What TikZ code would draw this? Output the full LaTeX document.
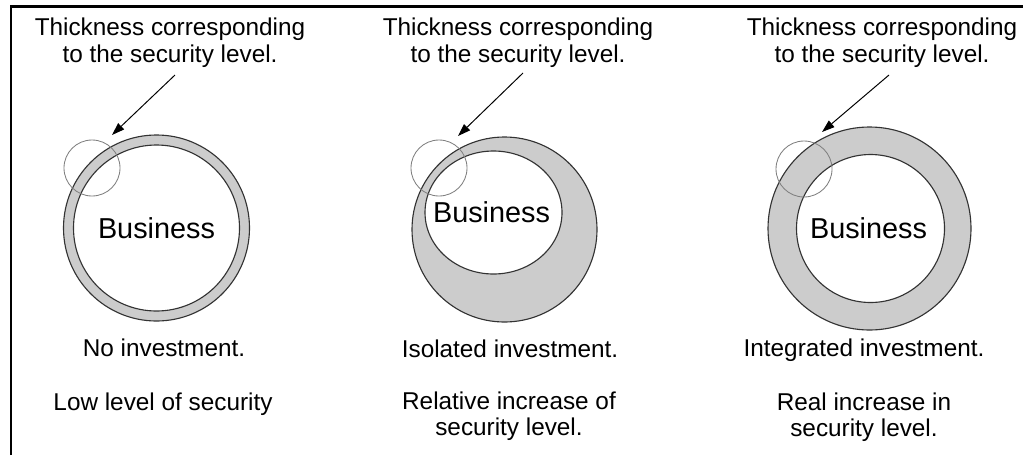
\documentclass[tikz,border=0pt]{standalone}
\usepackage{fontspec}
\setmainfont{Liberation Sans}
\usetikzlibrary{arrows.meta}

\begin{document}
\begin{tikzpicture}[
    x=0.025cm, y=-0.025cm,
    caption/.style={font=\fontsize{17.3}{19.2}\selectfont, align=center, anchor=base, inner sep=0pt},
    note/.style={font=\fontsize{17.3}{18.2}\selectfont, align=center, anchor=base, inner sep=0pt},
    biz/.style={font=\fontsize{20.5}{24}\selectfont, inner sep=0pt},
    ring/.style={draw=black!80, fill=black!20, line width=0.8pt},
    hole/.style={draw=black!80, fill=white, line width=0.8pt},
    lens/.style={draw=black!50, line width=0.6pt},
    pointer/.style={-{Triangle[length=9pt, width=6pt]}, line width=0.7pt}
]
    \useasboundingbox (0,0) rectangle (1023,455);

    % Frame (top and left edge)
    \draw[line width=2.1pt] (11,455) -- (11,6.5) -- (1023,6.5);

    % Panel 1: no investment
    \draw[ring] (156.5,228) circle (93);
    \draw[hole] (156.5,228) circle (83);
    \node[biz] (biz1) at (156.5,228) {Business};
    \draw[lens] (92,168) circle (28);
    \node[caption] (top1) at (170,62) {Thickness corresponding\\to the security level.};
    \coordinate (tail1) at (175,75);
    \coordinate (tip1) at (112,135);
    \draw[pointer] (tail1) -- (tip1);
    \node[note] (inv1) at (164,356) {No investment.};
    \node[note] (lev1) at (163,410) {Low level of security};

    % Panel 2: isolated investment
    \draw[ring] (504.5,229.5) circle (92.5);
    \draw[hole] (493.5,212.5) ellipse (68.5 and 61.5);
    \node[biz] (biz2) at (491.5,212) {Business};
    \draw[lens] (439,168) circle (28);
    \node[caption] (top2) at (518,62) {Thickness corresponding\\to the security level.};
    \coordinate (tail2) at (523,73);
    \coordinate (tip2) at (458,136);
    \draw[pointer] (tail2) -- (tip2);
    \node[note] (inv2) at (510,357) {Isolated investment.};
    \node[note] (lev2) at (509,435) {Relative increase of\\security level.};

    % Panel 3: integrated investment
    \draw[ring] (869.5,228.5) circle (101.5);
    \draw[hole] (870.5,228.5) circle (74);
    \node[biz] (biz3) at (868.5,228) {Business};
    \draw[lens] (804,169) circle (28);
    \node[caption] (top3) at (882,62) {Thickness corresponding\\to the security level.};
    \coordinate (tail3) at (889,75);
    \coordinate (tip3) at (822,132);
    \draw[pointer] (tail3) -- (tip3);
    \node[note] (inv3) at (864,356) {Integrated investment.};
    \node[note] (lev3) at (864,436) {Real increase in\\security level.};

\end{tikzpicture}
\end{document}
